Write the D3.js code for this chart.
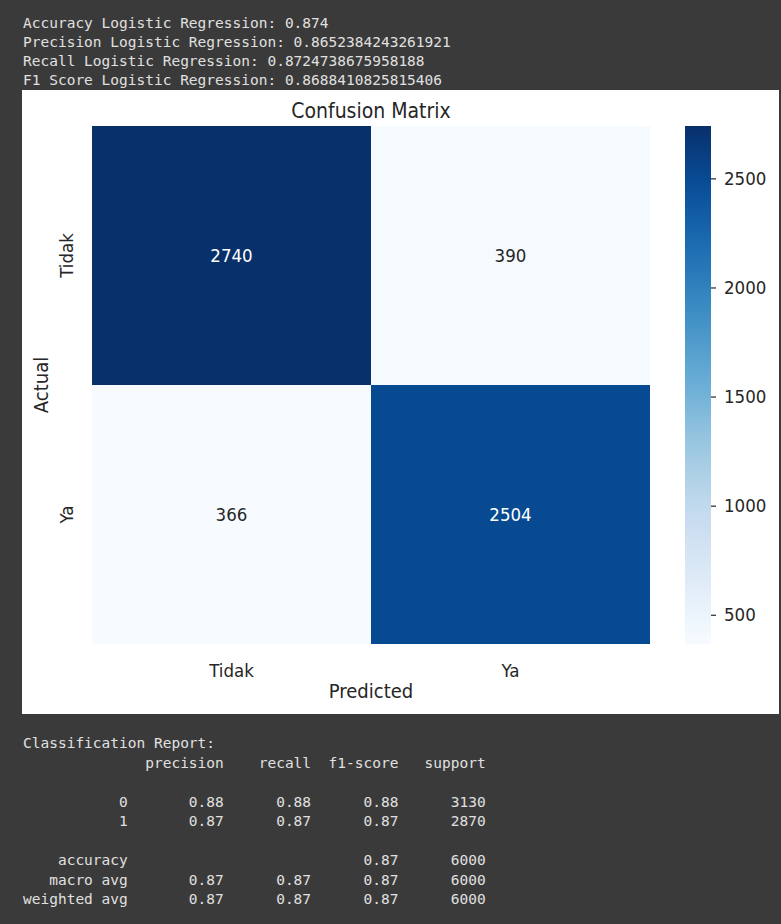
<!DOCTYPE html>
<html>
<head>
<meta charset="utf-8">
<script src="https://cdn.jsdelivr.net/npm/d3@7"></script>
<style>
  body { margin: 0; background: #3a3a3a; }
  svg { display: block; }
  .mono { font-family: "DejaVu Sans Mono", monospace; font-size: 14.5px; fill: #e0e0e0; white-space: pre; }
  .mpl { font-family: "DejaVu Sans Condensed", "DejaVu Sans", sans-serif; fill: #262626; }
</style>
</head>
<body>
<div id="chart"></div>
<script>
const metricNames = ["Accuracy", "Precision", "Recall", "F1 Score"];
const metricValues = ["0.874", "0.8652384243261921", "0.8724738675958188", "0.8688410825815406"];

const classes = ["Tidak", "Ya"];
const matrix = [[2740, 390], [366, 2504]];
const colorbarTicks = [500, 1000, 1500, 2000, 2500];

const reportLabels = ["0", "1", "accuracy", "macro avg", "weighted avg"];
const reportPrecision = [0.88, 0.87, null, 0.87, 0.87];
const reportRecall = [0.88, 0.87, null, 0.87, 0.87];
const reportF1 = [0.88, 0.87, 0.87, 0.87, 0.87];
const reportSupport = [3130, 2870, 6000, 6000, 6000];

const W = 781, H = 924;
const svg = d3.select("#chart").append("svg").attr("width", W).attr("height", H);

// printed metrics on top
svg.selectAll(".metric")
  .data(metricNames)
  .enter()
  .append("text")
  .attr("class", "mono")
  .attr("x", 23)
  .attr("y", (d, i) => 28 + i * 19)
  .text((d, i) => `${d} Logistic Regression: ${metricValues[i]}`);

// white figure panel
svg.append("rect")
  .attr("x", 22).attr("y", 90)
  .attr("width", 757).attr("height", 624)
  .attr("fill", "#ffffff");

const x = d3.scaleBand().domain(classes).range([92, 650]);
const y = d3.scaleBand().domain(classes).range([126, 644]);

const flat = matrix.flat();
const vmin = d3.min(flat), vmax = d3.max(flat);
const blues = d3.piecewise(d3.interpolateRgb, d3.schemeBlues[9]);
const color = d3.scaleSequential(blues).domain([vmin, vmax]);

const cells = [];
matrix.forEach((row, i) => row.forEach((v, j) => cells.push({ actual: classes[i], predicted: classes[j], value: v })));

function luminance(c) {
  const rgb = d3.rgb(c);
  const lin = [rgb.r, rgb.g, rgb.b].map(v => {
    v /= 255;
    return v <= 0.03928 ? v / 12.92 : Math.pow((v + 0.055) / 1.055, 2.4);
  });
  return 0.2126 * lin[0] + 0.7152 * lin[1] + 0.0722 * lin[2];
}

svg.selectAll(".cell")
  .data(cells)
  .enter()
  .append("rect")
  .attr("class", "cell")
  .attr("x", d => x(d.predicted))
  .attr("y", d => y(d.actual))
  .attr("width", x.bandwidth())
  .attr("height", y.bandwidth())
  .attr("fill", d => color(d.value));

svg.selectAll(".annot")
  .data(cells)
  .enter()
  .append("text")
  .attr("class", "mpl")
  .attr("x", d => x(d.predicted) + x.bandwidth() / 2)
  .attr("y", d => y(d.actual) + y.bandwidth() / 2)
  .attr("dy", "0.36em")
  .attr("text-anchor", "middle")
  .style("font-size", "18.5px")
  .style("fill", d => luminance(color(d.value)) > 0.408 ? "#262626" : "#ffffff")
  .text(d => d.value);

// axes of the heatmap (tick marks hidden, like seaborn)
const xAxis = svg.append("g")
  .attr("transform", `translate(0,${644})`)
  .call(d3.axisBottom(x).tickSize(0).tickPadding(20));
xAxis.select(".domain").remove();
xAxis.selectAll("text").attr("class", "mpl").style("font-size", "18.5px").attr("fill", null);

const yAxis = svg.append("g")
  .attr("transform", `translate(${92},0)`)
  .call(d3.axisLeft(y).tickSize(0).tickPadding(0));
yAxis.select(".domain").remove();
yAxis.selectAll("text")
  .attr("class", "mpl")
  .style("font-size", "18.5px")
  .attr("fill", null)
  .attr("x", null).attr("dy", null)
  .attr("text-anchor", "middle")
  .attr("transform", "translate(-19,0) rotate(-90)");

svg.append("text")
  .attr("class", "mpl")
  .attr("x", 371).attr("y", 118)
  .attr("text-anchor", "middle")
  .style("font-size", "21px")
  .text("Confusion Matrix");

svg.append("text")
  .attr("class", "mpl")
  .attr("x", 371).attr("y", 698)
  .attr("text-anchor", "middle")
  .style("font-size", "20px")
  .text("Predicted");

svg.append("text")
  .attr("class", "mpl")
  .attr("transform", `translate(48,${385}) rotate(-90)`)
  .attr("text-anchor", "middle")
  .style("font-size", "20px")
  .text("Actual");

// colorbar
const cb = y.range();
const cbScale = d3.scaleLinear().domain([vmin, vmax]).range([cb[1], cb[0]]);
const grad = svg.append("defs").append("linearGradient")
  .attr("id", "cbgrad")
  .attr("x1", 0).attr("y1", 1).attr("x2", 0).attr("y2", 0);
grad.selectAll("stop")
  .data(d3.range(0, 1.0001, 0.05))
  .enter()
  .append("stop")
  .attr("offset", d => d)
  .attr("stop-color", d => blues(d));

svg.append("rect")
  .attr("x", 685).attr("y", cb[0])
  .attr("width", 26).attr("height", cb[1] - cb[0])
  .attr("fill", "url(#cbgrad)");

const cbAxis = svg.append("g")
  .attr("transform", "translate(711,0)")
  .call(d3.axisRight(cbScale).tickValues(colorbarTicks).tickFormat(d3.format("d")).tickSize(5).tickPadding(8));
cbAxis.select(".domain").remove();
cbAxis.selectAll("line").attr("stroke", "#262626").attr("stroke-width", 1.2);
cbAxis.selectAll("text").attr("class", "mpl").style("font-size", "18.5px").attr("fill", null);

// classification report
const fmt = v => (v == null ? "" : v.toFixed(2));
const header = " ".repeat(12) + " " + ["precision", "recall", "f1-score", "support"].map(h => " " + h.padStart(9)).join("");
const rows = reportLabels.map((lab, i) =>
  lab.padStart(12) + " " +
  [reportPrecision[i], reportRecall[i], reportF1[i]].map(v => " " + fmt(v).padStart(9)).join("") +
  " " + String(reportSupport[i]).padStart(9));
const reportLines = ["Classification Report:", header, "", rows[0], rows[1], "", rows[2], rows[3], rows[4]];

svg.selectAll(".report")
  .data(reportLines)
  .enter()
  .append("text")
  .attr("class", "mono")
  .attr("x", 23)
  .attr("y", (d, i) => 748 + i * 19.5)
  .text(d => d);
</script>
</body>
</html>
